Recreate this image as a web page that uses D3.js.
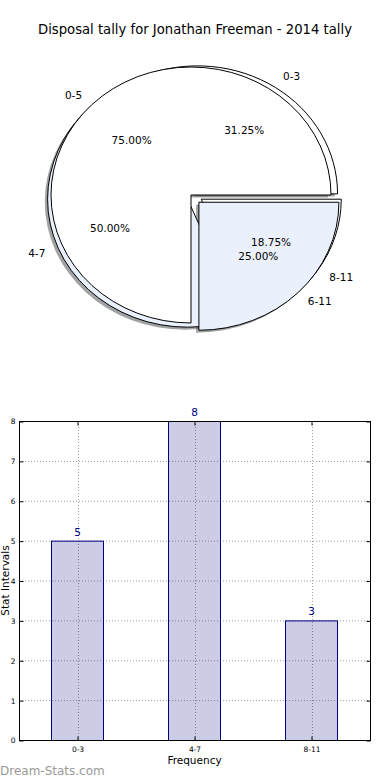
<!DOCTYPE html>
<html>
  <body style="margin:0;background:#fff">
    <style>
      text { font-family: "DejaVu Sans", sans-serif; }
    </style>
    <script src="https://d3js.org/d3.v7.min.js"></script>
    <script type="text/javascript">
      const width = 390;
      const height = 780;
      const title = 'Disposal tally for Jonathan Freeman - 2014 tally';

      // tally by interval
      const categories = ['0-3', '4-7', '8-11'];
      const counts = [5, 8, 3];
      // second (overlaid) pie
      const halfLabels = ['0-5', '6-11'];
      const halfShares = [75, 25];
      const yTicks = [0, 1, 2, 3, 4, 5, 6, 7, 8];

      const white = '#ffffff';
      const paleBlue = '#eaf0fc';
      const navy = '#000080';

      const svg = d3.select('body')
        .append('svg')
        .attr('width', width)
        .attr('height', height);

      svg.append('text')
        .attr('x', 195)
        .attr('y', 34)
        .attr('text-anchor', 'middle')
        .attr('font-size', 13.2)
        .text(title);

      // ---------- pie ----------
      const rx = 140;
      const ry = 128;
      const pie = d3.pie().sort(null).startAngle(Math.PI / 2).endAngle(-1.5 * Math.PI);
      const arc = d3.arc().innerRadius(0).outerRadius(rx);

      function wedges(values, labels, base, explode, colors) {
        return pie(values).map((d, i) => {
          const mid = (d.startAngle + d.endAngle) / 2;
          const dx = Math.sin(mid);
          const dy = -Math.cos(mid);
          const cx = base[0] + explode[i] * rx * dx;
          const cy = base[1] + explode[i] * ry * dy;
          return { d, label: labels[i], cx, cy, dx, dy, color: colors[i] };
        });
      }

      const total = d3.sum(counts);
      const pieA = wedges(counts, categories, [196, 196], [0.02, 0.065, 0.045], [white, paleBlue, white]);
      const pieB = wedges(halfShares, halfLabels, [191, 195], [0, 0.08], [white, paleBlue]);
      pieA.forEach((w) => { w.pct = w.d.value / total * 100; });
      pieB.forEach((w) => { w.pct = w.d.value; });
      const all = pieA.concat(pieB);

      const pieG = svg.append('g');
      const place = (w, ox, oy) => `translate(${w.cx + ox},${w.cy + oy}) scale(1,${ry / rx})`;

      // shadows sit under every wedge
      pieG.selectAll('path.shadow')
        .data(all)
        .enter()
        .append('path')
        .attr('class', 'shadow')
        .attr('d', (w) => arc(w.d))
        .attr('transform', (w) => place(w, -0.02 * rx, 0.02 * ry))
        .attr('fill', (w) => d3.color(w.color).darker(3.5))
        .attr('fill-opacity', 0.5);

      pieG.selectAll('path.wedge')
        .data(all)
        .enter()
        .append('path')
        .attr('class', 'wedge')
        .attr('d', (w) => arc(w.d))
        .attr('transform', (w) => place(w, 0, 0))
        .attr('fill', (w) => w.color)
        .attr('stroke', '#000')
        .attr('stroke-width', 1)
        .attr('vector-effect', 'non-scaling-stroke')
        .attr('stroke-linejoin', 'miter');

      pieG.selectAll('text.name')
        .data(all)
        .enter()
        .append('text')
        .attr('x', (w) => w.cx + 1.1 * rx * w.dx)
        .attr('y', (w) => w.cy + 1.1 * ry * w.dy)
        .attr('dy', '0.35em')
        .attr('text-anchor', (w) => (w.dx > 0 ? 'start' : 'end'))
        .attr('font-size', 10.5)
        .text((w) => w.label);

      pieG.selectAll('text.pct')
        .data(all)
        .enter()
        .append('text')
        .attr('x', (w) => w.cx + 0.6 * rx * w.dx)
        .attr('y', (w) => w.cy + 0.6 * ry * w.dy)
        .attr('dy', '0.35em')
        .attr('text-anchor', 'middle')
        .attr('font-size', 10.5)
        .text((w) => w.pct.toFixed(2) + '%');

      // ---------- bars ----------
      const box = { left: 19, right: 370, top: 421, bottom: 740 };
      const scaleX = d3.scaleBand()
        .domain(categories)
        .range([box.left, box.right])
        .paddingInner(0.555)
        .paddingOuter(0.2775);
      const scaleY = d3.scaleLinear()
        .domain([0, 8])
        .range([box.bottom, box.top]);
      const centre = (c) => scaleX(c) + scaleX.bandwidth() / 2;

      const grid = svg.append('g')
        .attr('stroke', '#a0a0a0')
        .attr('stroke-width', 1)
        .attr('stroke-dasharray', '1,2');
      grid.selectAll('line.gy')
        .data(yTicks.slice(1, -1))
        .enter()
        .append('line')
        .attr('x1', box.left)
        .attr('x2', box.right)
        .attr('y1', (d) => scaleY(d) + 0.5)
        .attr('y2', (d) => scaleY(d) + 0.5);
      grid.selectAll('line.gx')
        .data(categories)
        .enter()
        .append('line')
        .attr('x1', (d) => Math.round(centre(d)) + 0.5)
        .attr('x2', (d) => Math.round(centre(d)) + 0.5)
        .attr('y1', box.top)
        .attr('y2', box.bottom);

      svg.selectAll('rect.bar')
        .data(counts)
        .enter()
        .append('rect')
        .attr('class', 'bar')
        .attr('x', (d, i) => Math.round(scaleX(categories[i])) + 0.5)
        .attr('y', (d) => scaleY(d) + 0.5)
        .attr('width', Math.round(scaleX.bandwidth()))
        .attr('height', (d) => box.bottom - scaleY(d))
        .attr('fill', navy)
        .attr('fill-opacity', 0.2)
        .attr('stroke', navy)
        .attr('stroke-width', 1);

      svg.selectAll('text.value')
        .data(counts)
        .enter()
        .append('text')
        .attr('x', (d, i) => centre(categories[i]))
        .attr('y', (d) => scaleY(d) - 5)
        .attr('text-anchor', 'middle')
        .attr('font-size', 10.5)
        .attr('fill', navy)
        .text((d) => d);

      // frame with inward ticks on all sides
      svg.append('rect')
        .attr('x', box.left + 0.5)
        .attr('y', box.top + 0.5)
        .attr('width', box.right - box.left)
        .attr('height', box.bottom - box.top)
        .attr('fill', 'none')
        .attr('stroke', '#000');

      const axisLeft = d3.axisLeft(scaleY).tickValues(yTicks).tickSizeInner(-4).tickSizeOuter(0).tickPadding(4);
      const yAxis = svg.append('g')
        .attr('transform', `translate(${box.left + 0.5},0.5)`)
        .call(axisLeft);
      const axisRight = d3.axisRight(scaleY).tickValues(yTicks).tickSizeInner(-4).tickSizeOuter(0).tickFormat('');
      svg.append('g')
        .attr('transform', `translate(${box.right + 0.5},0.5)`)
        .call(axisRight);
      const axisBottom = d3.axisBottom(scaleX).tickSizeInner(-4).tickSizeOuter(0).tickPadding(6);
      const xAxis = svg.append('g')
        .attr('transform', `translate(0.5,${box.bottom + 0.5})`)
        .call(axisBottom);
      const axisTop = d3.axisTop(scaleX).tickSizeInner(-4).tickSizeOuter(0).tickFormat('');
      svg.append('g')
        .attr('transform', `translate(0.5,${box.top + 0.5})`)
        .call(axisTop);
      svg.selectAll('.domain').remove();
      svg.selectAll('.tick line').attr('stroke', '#000');
      yAxis.selectAll('text').attr('font-size', 7.5).attr('font-family', '"DejaVu Sans", sans-serif');
      xAxis.selectAll('text').attr('font-size', 7.5).attr('font-family', '"DejaVu Sans", sans-serif');

      svg.append('text')
        .attr('x', (box.left + box.right) / 2)
        .attr('y', 764)
        .attr('text-anchor', 'middle')
        .attr('font-size', 10.5)
        .text('Frequency');

      svg.append('text')
        .attr('transform', `translate(8.5,${(box.top + box.bottom) / 2}) rotate(-90)`)
        .attr('text-anchor', 'middle')
        .attr('font-size', 10.5)
        .text('Stat Intervals');

      svg.append('text')
        .attr('x', 0)
        .attr('y', 775)
        .attr('font-size', 12)
        .attr('fill', '#9a9a9a')
        .text('Dream-Stats.com');
    </script>
  </body>
</html>
